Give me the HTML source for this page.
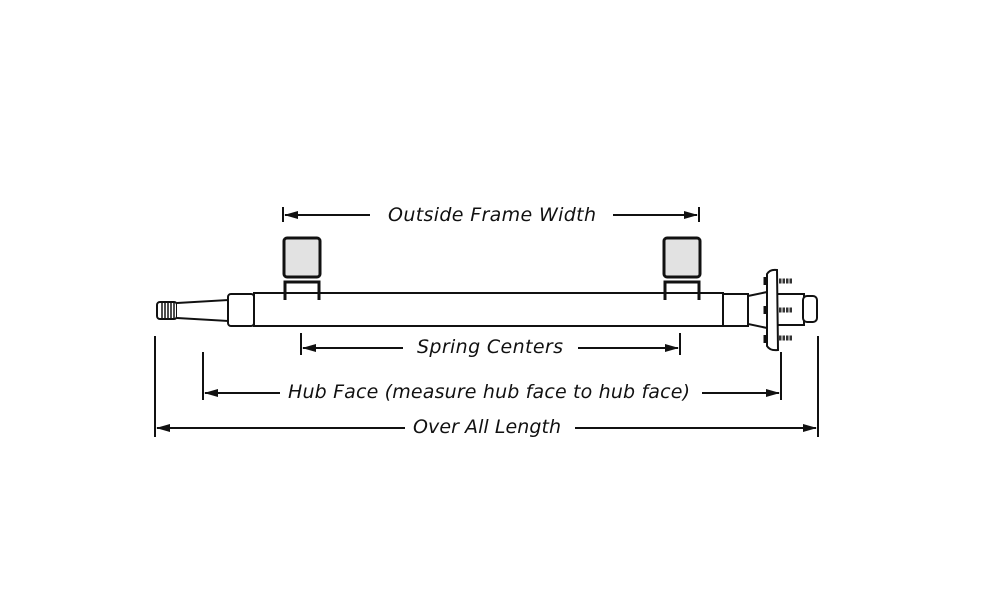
<!DOCTYPE html>
<html><head><style>
html,body{margin:0;padding:0;background:#fff;}
svg{display:block;}
text{font-family:"DejaVu Sans","Liberation Sans",sans-serif;font-style:italic;font-size:19px;fill:#111;}
</style></head><body>
<svg width="995" height="600" viewBox="0 0 995 600" xmlns="http://www.w3.org/2000/svg">
<defs>
<marker id="a" markerWidth="14" markerHeight="8" refX="13" refY="4" orient="auto" markerUnits="userSpaceOnUse">
<path d="M0,0 L14,4 L0,8 Z" fill="#111"/></marker>
</defs>
<g stroke="#111" fill="none" stroke-width="2">
<rect x="157" y="302" width="20" height="17" rx="3" fill="#fff"/>
<g stroke-width="1.5"><line x1="162" y1="303" x2="162" y2="318"/><line x1="165" y1="303" x2="165" y2="318"/><line x1="168" y1="303" x2="168" y2="318"/><line x1="171" y1="303" x2="171" y2="318"/><line x1="174" y1="303" x2="174" y2="318"/></g>
<path d="M177,303 L228,300 L228,321 L177,318" fill="#fff"/>
<rect x="228" y="294" width="26" height="32" rx="3" fill="#fff"/>
<rect x="254" y="293" width="469" height="33" fill="#fff"/>
<rect x="723" y="294" width="25" height="32" fill="#fff"/>
<path d="M748,296 L767,292 L767,328 L748,324 Z" fill="#fff"/>
<rect x="777" y="294" width="27" height="31" fill="#fff"/>
<rect x="803" y="296" width="14" height="26" rx="4" fill="#fff"/>
<path d="M767,274 Q770,269 777,270 L778,350 Q770,351 767,346 Z" fill="#fff"/>
<g stroke-width="3"><line x1="765" y1="277" x2="765" y2="285"/><line x1="765" y1="306" x2="765" y2="314"/><line x1="765" y1="335" x2="765" y2="343"/></g>
<g stroke-width="5" stroke="#333" stroke-dasharray="2.5 1"><line x1="779" y1="281" x2="793" y2="281"/><line x1="779" y1="310" x2="793" y2="310"/><line x1="779" y1="338" x2="793" y2="338"/></g>
<rect x="284" y="238" width="36" height="39" rx="3" fill="#e2e2e2" stroke-width="3"/>
<rect x="664" y="238" width="36" height="39" rx="3" fill="#e2e2e2" stroke-width="3"/>
<path d="M285,300 L285,282 L319,282 L319,300" stroke-width="3"/>
<path d="M665,300 L665,282 L699,282 L699,300" stroke-width="3"/>
<line x1="283" y1="207" x2="283" y2="222"/>
<line x1="699" y1="207" x2="699" y2="222"/>
<line x1="301" y1="333" x2="301" y2="355"/>
<line x1="680" y1="333" x2="680" y2="355"/>
<line x1="203" y1="352" x2="203" y2="400"/>
<line x1="781" y1="352" x2="781" y2="400"/>
<line x1="155" y1="336" x2="155" y2="437"/>
<line x1="818" y1="336" x2="818" y2="437"/>
<line x1="370" y1="215" x2="285" y2="215" marker-end="url(#a)"/>
<line x1="613" y1="215" x2="697" y2="215" marker-end="url(#a)"/>
<line x1="403" y1="348" x2="303" y2="348" marker-end="url(#a)"/>
<line x1="578" y1="348" x2="678" y2="348" marker-end="url(#a)"/>
<line x1="280" y1="393" x2="205" y2="393" marker-end="url(#a)"/>
<line x1="702" y1="393" x2="779" y2="393" marker-end="url(#a)"/>
<line x1="405" y1="428" x2="157" y2="428" marker-end="url(#a)"/>
<line x1="575" y1="428" x2="816" y2="428" marker-end="url(#a)"/>
</g>
<text x="492" y="221" text-anchor="middle" textLength="208">Outside Frame Width</text>
<text x="490" y="353" text-anchor="middle" textLength="146">Spring Centers</text>
<text x="489" y="398" text-anchor="middle" textLength="402">Hub Face (measure hub face to hub face)</text>
<text x="487" y="433" text-anchor="middle" textLength="148">Over All Length</text>
</svg>
</body></html>
